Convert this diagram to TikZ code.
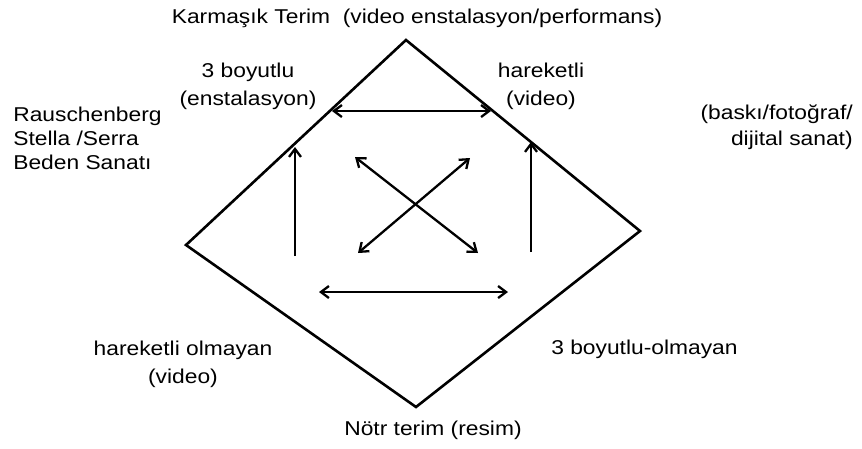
\documentclass[tikz,border=0pt]{standalone}
\usepackage{fontspec}
\setmainfont{Liberation Sans}
\usetikzlibrary{arrows.meta}

\begin{document}
\begin{tikzpicture}[x=1pt, y=-1pt, line width=2.3pt,
    >={Straight Barb[length=8pt,width=12pt]},
    lbl/.style={font=\fontsize{20}{24}\selectfont, xscale=1.14, inner sep=0pt}]
    \useasboundingbox (0,0) rectangle (862,448);

    % corners of the square
    \coordinate (top) at (406,40);
    \coordinate (right) at (640,231);
    \coordinate (bottom) at (416,407);
    \coordinate (left) at (186,245);
    \draw[line width=2.6pt] (top) -- (right) -- (bottom) -- (left) -- cycle;

    % labels
    \node[lbl] (cmplx) at (417,18.5) {Karmaşık Terim\ \ (video enstalasyon/performans)};
    \node[lbl, align=center] (threed) at (248,86) {3 boyutlu\\[4pt](enstalasyon)};
    \node[lbl, align=center] (moving) at (541,86) {hareketli\\[4pt](video)};
    \node[lbl, align=left, anchor=west] (artists) at (12,138) {Rauschenberg\\Stella /Serra\\Beden Sanatı};
    \node[lbl, align=right, anchor=east] (print) at (854,127) {(baskı/fotoğraf/\\[1.5pt]dijital sanat)};
    \node[lbl, align=center] (notmoving) at (183,364) {hareketli olmayan\\[4pt](video)};
    \node[lbl, anchor=west] (notthreed) at (550,349.5) {3 boyutlu-olmayan};
    \node[lbl] (neutral) at (433,430.5) {Nötr terim (resim)};

    % arrow ends
    \coordinate (a1) at (332,111);
    \coordinate (a2) at (491,111);
    \coordinate (b1) at (295,256);
    \coordinate (b2) at (295,147);
    \coordinate (c1) at (531,252);
    \coordinate (c2) at (531,142);
    \coordinate (d1) at (355,157);
    \coordinate (d2) at (478,253);
    \coordinate (e1) at (470,158);
    \coordinate (e2) at (358,253);
    \coordinate (f1) at (319,292);
    \coordinate (f2) at (508,292);

    \path[<->]
        (a1) edge (a2)
        (d1) edge (d2)
        (e1) edge (e2)
        (f1) edge (f2);
    \path[->]
        (b1) edge (b2)
        (c1) edge (c2);
\end{tikzpicture}
\end{document}
